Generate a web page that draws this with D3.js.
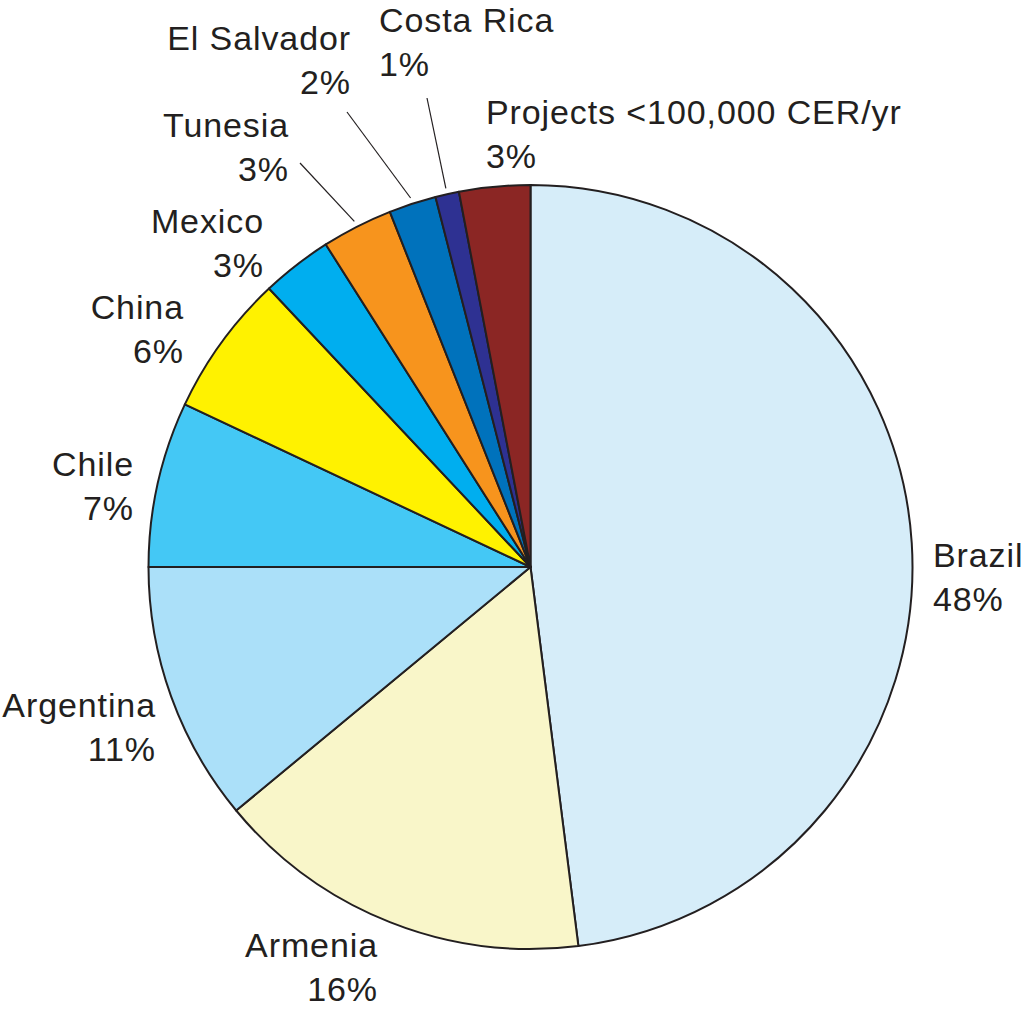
<!DOCTYPE html>
<html>
<head>
<meta charset="utf-8">
<script src="https://cdn.jsdelivr.net/npm/d3@7/dist/d3.min.js"></script>
<style>
  html, body { margin: 0; padding: 0; background: #ffffff; }
  svg { display: block; }
  text { font-family: "Liberation Sans", Arial, Helvetica, sans-serif; fill: #231f20; }
</style>
</head>
<body>
<svg id="chart" width="1024" height="1010"></svg>
<script>
// ---- data ----
const categories = ["Brazil", "Armenia", "Argentina", "Chile", "China", "Mexico", "Tunesia", "El Salvador", "Costa Rica", "Projects <100,000 CER/yr"];
const shares = [48, 16, 11, 7, 6, 3, 3, 2, 1, 3];
const sliceColors = ["#d6edf9", "#f9f6c9", "#abe0f9", "#44c8f5", "#fff200", "#00aeef", "#f7941d", "#0072bc", "#2e3192", "#8b2624"];
const leaderSlices = ["Tunesia", "El Salvador", "Costa Rica"];

// ---- layout (label placement, not data) ----
const labelLayout = {
  "Brazil":      { x: 933, y: 567, anchor: "start" },
  "Armenia":     { x: 378, y: 957, anchor: "end" },
  "Argentina":   { x: 156, y: 717, anchor: "end" },
  "Chile":       { x: 134, y: 476, anchor: "end" },
  "China":       { x: 184, y: 319, anchor: "end" },
  "Mexico":      { x: 264, y: 233, anchor: "end" },
  "Tunesia":     { x: 289, y: 137, anchor: "end" },
  "El Salvador": { x: 351, y: 50,  anchor: "end" },
  "Costa Rica":  { x: 379, y: 32,  anchor: "start" },
  "Projects <100,000 CER/yr": { x: 486, y: 124, anchor: "start" }
};
const leaderEnds = {
  "Tunesia":     { x: 300, y: 163 },
  "El Salvador": { x: 347, y: 112 },
  "Costa Rica":  { x: 427, y: 98 }
};

const cx = 530.5, cy = 567, R = 382;
const lineGap = 44;

const svg = d3.select("#chart");
const g = svg.append("g").attr("transform", `translate(${cx},${cy})`);

const data = categories.map((c, i) => ({ name: c, value: shares[i], color: sliceColors[i] }));

const pie = d3.pie().value(d => d.value).sort(null).startAngle(0).endAngle(2 * Math.PI);
const arcs = pie(data);
const arc = d3.arc().innerRadius(0).outerRadius(R);
const outerArc = d3.arc().innerRadius(R + 6).outerRadius(R + 6);

g.selectAll("path.slice")
  .data(arcs)
  .enter().append("path")
  .attr("class", "slice")
  .attr("d", arc)
  .attr("fill", d => d.data.color)
  .attr("stroke", "#231f20")
  .attr("stroke-width", 2)
  .attr("stroke-linejoin", "round");

// leader lines
arcs.filter(d => leaderSlices.includes(d.data.name)).forEach(d => {
  const p = outerArc.centroid(d);
  const s = leaderEnds[d.data.name];
  svg.append("line")
    .attr("x1", s.x).attr("y1", s.y)
    .attr("x2", cx + p[0]).attr("y2", cy + p[1])
    .attr("stroke", "#231f20")
    .attr("stroke-width", 1.2);
});

// labels
arcs.forEach(d => {
  const L = labelLayout[d.data.name];
  const t = svg.append("text")
    .attr("x", L.x).attr("y", L.y)
    .attr("text-anchor", L.anchor)
    .attr("font-size", 34)
    .attr("letter-spacing", 0.9);
  t.append("tspan").attr("x", L.x).attr("y", L.y).text(d.data.name);
  t.append("tspan").attr("x", L.x).attr("y", L.y + lineGap).text(d.data.value + "%");
});
</script>
</body>
</html>
